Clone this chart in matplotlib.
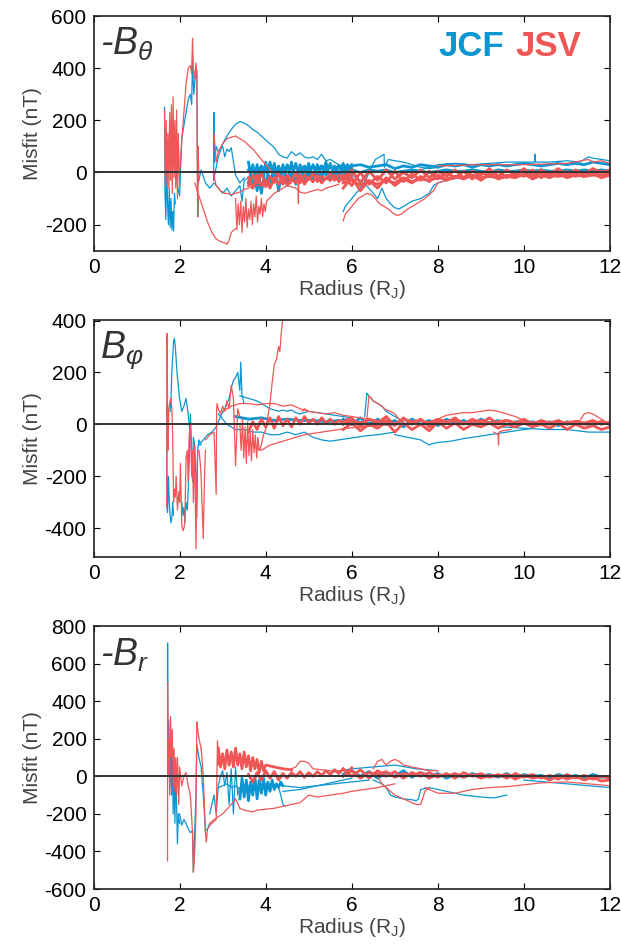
import matplotlib
matplotlib.use("Agg")
import matplotlib.pyplot as plt

plt.rcParams['font.family'] = ['Liberation Sans', 'DejaVu Sans']
plt.rcParams['mathtext.fontset'] = 'custom'
plt.rcParams['mathtext.rm'] = 'Liberation Sans'
plt.rcParams['mathtext.it'] = 'Liberation Sans:italic'
plt.rcParams['axes.unicode_minus'] = False

JCF_COLOR = '#0b96d2'
JSV_COLOR = '#ef5656'

# shared radius grids for the dense bands (R_J)
band_r = [5.8, 6.0, 6.2, 6.4, 6.6, 6.8, 7.0, 7.2, 7.4, 7.6, 7.8, 8.0, 8.2, 8.4, 8.6, 8.8,
          9.0, 9.2, 9.4, 9.6, 9.8, 10.0, 10.2, 10.4, 10.6, 10.8, 11.0, 11.2, 11.4, 11.6, 11.8, 12.0]
mid_r = [3.6, 3.7, 3.8, 3.9, 4.0, 4.1, 4.2, 4.3, 4.4, 4.5, 4.6, 4.7, 4.8, 4.9, 5.0, 5.1,
         5.2, 5.3, 5.4, 5.5, 5.6, 5.7, 5.8, 5.9, 6.0]

# ---------------- -B_theta ----------------
theta_jcf = [
    ([1.65, 1.66, 1.68, 1.70, 1.72, 1.74, 1.76, 1.78, 1.80, 1.82, 1.84, 1.86, 1.88, 1.90],
     [250, -80, -180, 40, -120, -200, -60, -210, -100, -220, -150, -225, -80, -120]),
    ([1.90, 1.95, 2.00, 2.05, 2.10, 2.15, 2.20, 2.25, 2.28, 2.30, 2.33, 2.36, 2.40, 2.42, 2.44],
     [60, -50, -90, 130, 180, 230, 280, 300, 260, 430, 300, 360, 390, -170, -100]),
    ([2.80, 2.90, 3.00, 3.10, 3.20, 3.30, 3.40, 3.50, 3.60, 3.70, 3.80, 3.90, 4.00, 4.10, 4.20,
      4.30, 4.40, 4.50, 4.60, 4.70, 4.80, 4.90, 5.00, 5.10, 5.20, 5.30, 5.40, 5.50, 5.60, 5.70,
      5.80, 5.90, 6.00],
     [-20, 60, 110, 140, 165, 185, 195, 190, 180, 165, 155, 140, 125, 110, 95, 70, 60, 55, 80,
      65, 75, 60, 55, 60, 50, 70, 45, 50, 40, 30, 25, 30, 20]),
    ([2.79, 2.80, 2.81, 2.85, 2.90, 2.95, 3.00, 3.05, 3.10, 3.15, 3.20, 3.30, 3.40, 3.50],
     [-30, 230, 40, 100, 80, 90, 100, 60, 90, 80, 95, -10, -40, -20]),
    ([2.42, 2.50, 2.60, 2.70, 2.80, 2.90, 3.00, 3.10, 3.20, 3.30, 3.40, 3.45, 3.50, 3.60],
     [-50, 10, -40, -60, -40, -60, -80, -60, -90, -70, -50, -110, -30, -20]),
    ([5.80, 5.85, 5.95, 6.05, 6.15, 6.25, 6.35, 6.45, 6.55, 6.65, 6.75, 6.76, 6.85, 7.00, 7.20,
      7.40, 7.60, 7.80, 8.00],
     [-150, -130, -110, -90, -70, -50, -20, 20, 50, 60, 70, 20, 50, 45, 40, 30, 20, 15, 20]),
    ([6.0, 6.2, 6.4, 6.5, 6.6, 6.7, 6.8, 6.9, 7.0, 7.1, 7.2, 7.4, 7.6, 7.8, 7.9, 8.0, 8.2,
      8.5, 9.0],
     [-10, -30, -60, -80, -100, -60, -100, -120, -135, -140, -130, -110, -100, -80, -50, -40,
      -30, -20, -10]),
    ([7.6, 8.0, 8.4, 8.8, 9.2, 9.6, 10.0, 10.25, 10.26, 10.27, 10.6, 11.0, 11.3, 11.5, 11.6,
      11.8, 12.0],
     [10, 30, 35, 30, 35, 40, 40, 40, 70, 40, 40, 45, 40, 60, 55, 50, 45]),
]
theta_jcf_band = [
    (mid_r,
     [40, -60, 30, -80, 40, -50, 35, -70, 30, -40, 40, -45, 30, -30, 35, -35, 30, -25, 40,
      -30, 25, -20, 35, -25, 30]),
    (mid_r,
     [-40, 30, -70, 20, -50, 40, -30, 25, -40, 30, -20, 35, -25, 20, -15, 30, -20, 25, -10,
      35, -15, 25, -10, 30, -5]),
    (mid_r,
     [10, 20, 0, 25, 5, 30, 10, 20, 0, 25, 15, 20, 5, 25, 10, 20, 15, 25, 10, 20, 15, 25, 10,
      20, 15]),
    (band_r,
     [20, 25, 30, 20, 25, 30, 15, 25, 20, 30, 25, 20, 30, 25, 30, 20, 30, 25, 30, 25, 30, 35,
      30, 25, 30, 35, 30, 35, 30, 40, 35, 30]),
    (band_r,
     [5, 10, 0, 10, 5, 10, 0, 5, 10, 5, 0, 5, 10, 5, 5, 10, 5, 0, 10, 5, 5, 10, 5, 10, 5, 5,
      10, 5, 10, 5, 10, 5]),
]

theta_jsv = [
    ([1.65, 1.67, 1.69, 1.71, 1.73, 1.75, 1.77, 1.79, 1.81, 1.83, 1.85, 1.87, 1.89, 1.91, 1.93,
      1.95, 1.97, 2.00],
     [240, -50, 200, -40, 150, -60, 230, -30, 260, -80, 290, -20, 200, -60, 240, -100, 150, -50]),
    ([2.00, 2.05, 2.10, 2.15, 2.20, 2.25, 2.28, 2.30, 2.32, 2.35, 2.38, 2.40, 2.42, 2.43, 2.45],
     [0, 120, 230, 340, 400, 410, 380, 515, 400, 360, 420, 380, -170, 100, -30]),
    ([2.35, 2.45, 2.55, 2.65, 2.75, 2.85, 2.95, 3.05, 3.10, 3.15, 3.20, 3.30],
     [-40, -90, -140, -190, -230, -255, -265, -270, -275, -260, -230, -215]),
    ([3.30, 3.33, 3.36, 3.39, 3.42, 3.45, 3.48, 3.51, 3.54, 3.57, 3.60, 3.63, 3.66, 3.69, 3.72,
      3.75, 3.78, 3.81, 3.84, 3.87, 3.90, 3.93, 3.96, 3.99, 4.02, 4.2, 4.4, 4.6],
     [-100, -220, -120, -200, -110, -230, -130, -190, -100, -210, -140, -180, -110, -200, -120,
      -170, -90, -190, -130, -160, -100, -170, -120, -150, -110, -80, -60, -40]),
    ([2.80, 2.85, 2.90, 3.00, 3.10, 3.20, 3.30, 3.40, 3.50, 3.60, 3.70, 3.80, 3.90, 4.00, 4.10,
      4.20, 4.30, 4.40, 4.60, 4.80, 5.00],
     [150, 40, 80, 110, 130, 135, 140, 130, 120, 105, 90, 70, 50, 30, 10, 0, -10, -20, -30,
      -35, -30]),
    ([2.80, 2.82, 2.85, 2.90, 2.95, 3.00, 3.05, 3.10, 3.20, 3.30, 3.40, 3.50, 3.60, 3.80, 4.00,
      4.20, 4.50, 4.75, 4.76, 4.77, 5.00],
     [0, -30, -50, -60, -70, -75, -80, -80, -85, -80, -75, -65, -60, -50, -45, -40, -35, -30,
      -120, -30, -25]),
    ([4.5, 4.7, 4.8, 4.9, 5.0, 5.1, 5.2, 5.3, 5.4, 5.5, 5.6, 5.7],
     [-50, -60, -75, -80, -75, -70, -65, -70, -60, -55, -50, -45]),
    ([5.80, 5.85, 5.95, 6.05, 6.15, 6.25, 6.35, 6.45, 6.55, 6.65, 6.75, 6.85, 6.95, 7.05, 7.15,
      7.30, 7.50, 7.70, 7.90, 8.00, 8.20, 8.50],
     [-185, -160, -140, -120, -100, -90, -80, -85, -100, -120, -130, -140, -155, -165, -160,
      -140, -120, -100, -70, -40, -30, -20]),
    ([8.0, 9.0, 10.0, 11.0, 11.5, 11.6, 11.8, 12.0],
     [25, 30, 30, 35, 50, 40, 45, 35]),
]
theta_jsv_band = [
    (mid_r,
     [-20, -60, -10, -50, -30, -60, -20, -45, -15, -50, -25, -40, -10, -45, -20, -35, -10,
      -40, -20, -30, -10, -35, -15, -30, -10]),
    (mid_r,
     [-50, -10, -40, 0, -55, -15, -35, -5, -45, -10, -30, 0, -40, -10, -25, -5, -35, -15,
      -25, -5, -30, -10, -20, -5, -25]),
    (band_r,
     [-60, -20, -70, -30, -60, -20, -50, -25, -40, -15, -35, -10, -30, -15, -25, -10, -30,
      -5, -25, -15, -20, -5, -25, -10, -20, -5, -20, -10, -15, -5, -20, -10]),
    (band_r,
     [-10, -50, 0, -45, -15, -40, 5, -35, -5, -30, 5, -25, 0, -20, 5, -25, 0, -15, 5, -20, 0,
      -15, 10, -20, 0, -10, 5, -15, 0, -10, 5, -5]),
    (band_r,
     [-30, 10, -40, 5, -30, 10, -25, 0, -20, 10, -20, 5, -15, 10, -20, 5, -10, 15, -15, 10,
      -10, 15, -10, 10, -5, 15, -10, 10, -5, 15, 0, 10]),
    (band_r,
     [-40, -30, -50, -35, -45, -30, -40, -20, -35, -25, -30, -20, -25, -15, -20, -10, -20,
      -15, -20, -10, -15, -10, -15, -5, -10, -15, -10, -5, -15, -10, -10, -5]),
]

# ---------------- B_phi ----------------
phi_jcf = [
    ([1.70, 1.71, 1.72, 1.74, 1.76, 1.78, 1.80, 1.82, 1.84, 1.86],
     [80, -330, -340, -200, -300, -350, -380, -360, -300, -350]),
    ([1.78, 1.80, 1.82, 1.84, 1.86, 1.88, 1.90, 1.92, 1.95, 2.00, 2.05, 2.10, 2.15, 2.20, 2.25],
     [50, 100, 200, 260, 320, 330, 300, 250, 180, 100, 50, 70, 100, 40, -50]),
    ([2.05, 2.08, 2.10, 2.12, 2.15, 2.18, 2.20, 2.22, 2.25, 2.28, 2.30, 2.32, 2.35, 2.38, 2.40,
      2.42, 2.45, 2.50],
     [-300, -350, -320, -380, -300, -330, -250, -150, 40, -100, -220, -50, -80, -200, -360,
      -100, -60, -80]),
    ([2.45, 2.55, 2.65, 2.75, 2.85, 2.95, 3.05, 3.15, 3.20, 3.25, 3.30, 3.35, 3.40, 3.42, 3.45,
      3.50],
     [-80, -60, -40, -30, -10, 30, 60, 100, 140, 170, 180, 200, 130, 240, 110, 80]),
    ([3.4, 3.5, 3.6, 3.7, 3.8, 3.9, 4.0, 4.1, 4.2, 4.3, 4.4, 4.5, 4.6, 4.7, 4.8, 4.9, 5.0,
      5.2, 5.4, 5.6, 5.8, 6.0],
     [110, 105, 100, 95, 90, 80, 70, 60, 55, 50, 55, 50, 55, 45, 40, 45, 50, 45, 40, 35, 30, 25]),
    ([2.9, 3.1, 3.3, 3.5, 3.7, 3.9, 4.1, 4.3, 4.5, 4.7, 4.9, 5.1, 5.3, 5.5, 5.7, 5.9, 6.1,
      6.3, 6.6, 7.0],
     [40, 0, -20, -20, -30, -30, -40, -40, -30, -40, -30, -50, -60, -65, -60, -55, -50, -45,
      -40, -30]),
    ([6.30, 6.35, 6.40, 6.45, 6.50, 6.60, 6.70, 6.80, 6.90, 7.00, 7.20],
     [30, 120, 110, 100, 90, 80, 70, 50, 40, 30, 10]),
    ([7.0, 7.3, 7.6, 7.8, 7.85, 8.0, 8.3, 8.6, 9.0, 9.4, 9.8, 10.2],
     [-40, -50, -60, -80, -75, -70, -65, -55, -45, -35, -25, -15]),
    ([9.5, 10.0, 10.5, 11.0, 11.5, 12.0],
     [-10, -15, -20, -20, -30, -30]),
]
phi_jcf_band = [
    ([3.3, 3.6, 3.9, 4.2, 4.5, 4.8, 5.1, 5.4, 5.7, 6.0, 6.5, 7.0],
     [30, 20, 25, 15, 20, 15, 15, 10, 15, 10, 5, 0]),
    (band_r,
     [20, 0, 25, -5, 20, 0, 15, -10, 20, 0, 15, -5, 20, 5, 15, 0, 20, 5, 15, 0, 10, 5, 10,
      0, 10, -5, 10, 0, 5, -5, 10, 0]),
]

phi_jsv = [
    ([1.70, 1.71, 1.72, 1.73, 1.75, 1.78, 1.80, 1.82, 1.84, 1.86, 1.88, 1.90, 1.92, 1.95, 1.98,
      2.00, 2.02, 2.05, 2.08, 2.10, 2.12, 2.15],
     [-320, 350, 50, -100, 60, 90, 100, 60, -50, -300, -250, -280, -200, -330, -260, -300,
      -150, -390, -410, -400, -380, -130]),
    ([2.15, 2.18, 2.20, 2.22, 2.25, 2.28, 2.30, 2.32, 2.35, 2.38, 2.40, 2.42, 2.45, 2.48, 2.50,
      2.52, 2.55, 2.58, 2.60],
     [-130, -100, -220, -50, 0, -200, -100, -300, -80, -480, -200, -100, -100, -150, -200,
      -300, -440, -200, -100]),
    ([2.60, 2.70, 2.80, 2.85, 2.86, 2.87, 2.90, 2.95, 3.00, 3.05, 3.10, 3.15, 3.20, 3.25, 3.30,
      3.35, 3.40],
     [-60, -40, -30, -270, 50, 80, 60, 40, 70, 50, 90, 60, 150, 100, -160, 60, 30]),
    ([3.40, 3.43, 3.46, 3.49, 3.52, 3.55, 3.58, 3.61, 3.64, 3.67, 3.70, 3.73, 3.76, 3.79, 3.82,
      3.85],
     [0, -100, 20, -130, -10, -150, 10, -120, -30, -140, -20, -110, -40, -130, -50, -100]),
    ([3.85, 3.90, 3.95, 4.00, 4.05, 4.10, 4.15, 4.20, 4.25, 4.30, 4.33, 4.36, 4.38, 4.40],
     [-100, -80, -40, -20, 30, 80, 160, 230, 250, 300, 280, 350, 380, 410]),
    ([3.5, 3.7, 3.9, 4.1, 4.3, 4.5, 4.7, 4.9, 5.1, 5.3, 5.5, 5.7, 5.9, 6.2, 6.5, 7.0],
     [-60, -80, -100, -80, -70, -60, -50, -40, -35, -30, -25, -20, -15, -10, -5, 0]),
    ([3.0, 3.2, 3.4, 3.6, 3.8, 4.0, 4.2, 4.4, 4.6, 4.8, 5.0],
     [50, 70, 80, 80, 75, 80, 80, 70, 75, 60, 50]),
    ([4.85, 4.90, 5.00, 5.20, 5.40, 5.60, 5.80, 6.00, 6.20, 6.40, 6.60, 6.80, 7.00],
     [50, 60, 50, 45, 40, 45, 35, 30, 25, 20, 15, 10, 5]),
    ([6.35, 6.40, 6.45, 6.50, 6.60, 6.70, 6.80, 6.90, 7.00, 7.10, 7.20],
     [20, 110, 100, 90, 80, 70, 55, 50, 40, 20, 0]),
    ([7.8, 8.0, 8.2, 8.4, 8.6, 8.8, 9.0, 9.2, 9.4, 9.6, 9.8, 10.0, 10.3],
     [10, 20, 35, 40, 45, 45, 50, 55, 50, 40, 30, 15, 5]),
    ([9.30, 9.40, 9.41, 9.42, 9.50, 9.70],
     [-30, -40, -80, -30, -25, -20]),
    ([11.0, 11.3, 11.4, 11.5, 11.6, 11.7, 11.8, 11.9, 12.0],
     [10, 15, 40, 45, 40, 30, 20, 10, 10]),
]
phi_jsv_band = [
    (mid_r,
     [-30, 10, -20, 20, -10, 25, -15, 30, -5, 20, -10, 25, 0, 30, 5, 20, 0, 25, 5, 20, 0, 15,
      5, 20, 0]),
    (band_r,
     [0, 25, -10, 20, 5, 30, -5, 25, 0, 20, -10, 15, 5, 25, 0, 20, 5, 25, 0, 15, 5, 20, 0, 15,
      5, 15, 0, 10, 5, 15, 0, 10]),
    (band_r,
     [-20, 5, -25, 0, -15, 10, -30, 5, -20, 0, -25, 10, -15, 5, -20, 0, -10, 5, -15, 0, -10,
      5, -10, 0, -15, 5, -20, 0, -15, -5, -20, -10]),
    (band_r,
     [10, 15, 5, 20, 10, 15, 0, 20, 10, 15, 5, 20, 10, 15, 5, 10, 15, 5, 10, 15, 5, 10, 5,
      10, 0, 10, 5, 10, 0, 5, 10, 0]),
]

# ---------------- -B_r ----------------
rad_jcf = [
    ([1.720, 1.721, 1.730],
     [500, 710, 100]),
    ([1.73, 1.75, 1.77, 1.79, 1.81, 1.83, 1.85, 1.87, 1.89, 1.91, 1.93, 1.95, 1.97, 2.00],
     [100, 300, -50, 150, -100, 200, -200, 50, -250, 0, -150, -360, -200, -250]),
    ([2.00, 2.05, 2.10, 2.15, 2.20, 2.25, 2.30, 2.32, 2.35, 2.38, 2.40, 2.45, 2.50, 2.55, 2.60,
      2.65, 2.70],
     [-200, -260, -230, -250, -280, -300, -290, -510, -300, -100, 170, 100, 50, -100, -290,
      -280, -250]),
    ([2.70, 2.75, 2.80, 2.85, 2.90, 2.95, 3.00, 3.05, 3.10, 3.15, 3.20, 3.25, 3.30, 3.35, 3.40],
     [-200, -150, -100, -200, -50, 0, 30, -50, 20, -150, 40, -200, 50, -100, -60]),
    ([2.9, 3.0, 3.1, 3.2, 3.3, 3.4, 3.5, 3.6, 3.7, 3.8, 3.9, 4.0, 4.1, 4.2, 4.3, 4.35, 4.4, 4.45],
     [-60, -50, -40, -60, -50, -70, -60, -50, -60, -55, -50, -55, -50, -45, -60, -100, -150, -160]),
    ([4.0, 4.4, 4.8, 5.2, 5.6, 6.0, 6.4],
     [-40, -50, -60, -50, -40, -30, -20]),
    ([4.4, 4.8, 5.0, 5.2, 5.6, 6.0],
     [-80, -70, -60, -50, -30, -10]),
    ([6.5, 6.7, 6.8, 6.9, 7.0, 7.2, 7.4, 7.5, 7.55, 7.6, 7.8, 8.0, 8.3, 8.6, 9.0, 9.3, 9.6],
     [-20, -40, -60, -100, -110, -120, -125, -130, -120, -70, -60, -70, -85, -100, -110, -115,
      -100]),
    ([5.5, 6.0, 6.5, 7.0, 7.5, 8.0],
     [20, 40, 50, 60, 40, 30]),
    ([10.0, 10.5, 11.0, 11.5, 12.0],
     [-20, -30, -40, -50, -60]),
]
rad_jcf_band = [
    ([3.40, 3.45, 3.50, 3.55, 3.60, 3.65, 3.70, 3.75, 3.80, 3.85, 3.90, 3.95, 4.00, 4.05, 4.10,
      4.15, 4.20, 4.25, 4.30, 4.35, 4.40],
     [-120, -10, -110, -20, -130, -30, -100, 0, -120, -20, -90, -10, -100, -30, -80, -20,
      -70, -40, -60, -30, -50]),
    (band_r,
     [10, 30, 0, 25, -10, 20, 0, 30, -5, 20, 0, 15, -10, 10, -5, 15, 0, 10, -5, 15, -10, 10,
      0, 5, -10, 10, -5, 5, -10, 10, -5, 0]),
]

rad_jsv = [
    ([1.720, 1.721, 1.730],
     [-450, 500, 0]),
    ([1.73, 1.75, 1.77, 1.79, 1.81, 1.83, 1.85, 1.87, 1.89, 1.91, 1.93, 1.95, 1.98, 2.00, 2.05,
      2.10, 2.15, 2.20, 2.25, 2.30, 2.32, 2.34, 2.36, 2.38, 2.40, 2.42, 2.45, 2.50],
     [0, 200, -100, 320, 100, 250, -50, 150, -80, 100, -100, 100, -150, 50, -50, 0, 20, -50,
      -100, -300, -510, -450, -350, -200, 290, 250, 200, 150]),
    ([2.50, 2.55, 2.60, 2.62, 2.65, 2.70, 2.75, 2.80, 2.85, 2.88, 2.90, 2.95, 3.00],
     [150, 0, -300, -350, -280, -260, -250, -240, -230, 190, 60, 100, 80]),
    ([3.4, 3.5, 3.6, 3.7, 3.8, 4.0, 4.2, 4.4, 4.6, 4.8, 4.9, 5.0, 5.2, 5.5, 5.8, 6.0, 6.3,
      6.6, 6.8, 7.0],
     [-170, -180, -185, -190, -180, -175, -170, -160, -150, -140, -120, -100, -110, -100, -90,
      -80, -70, -60, -50, -40]),
    ([2.7, 2.8, 3.0, 3.2, 3.3, 3.4],
     [-250, -230, -200, -150, -120, -170]),
    ([4.6, 4.7, 4.8, 4.9, 5.0, 5.1, 5.5, 6.0],
     [40, 50, 80, 80, 70, 40, 30, 30]),
    ([6.6, 6.7, 6.8, 6.9, 7.0, 7.1, 7.2, 7.3, 7.4, 7.5, 7.6, 7.7, 7.8],
     [0, -40, -60, -80, -100, -110, -120, -130, -140, -150, -150, -80, -60]),
    ([6.5, 6.6, 6.7, 6.8, 6.9, 7.0, 7.1, 7.2, 7.4, 7.6, 7.8, 8.0],
     [40, 80, 90, 60, 80, 90, 80, 60, 50, 40, 30, 30]),
    ([7.7, 8.0, 8.4, 8.8, 9.2, 9.6, 10.0, 10.4, 11.0, 11.5, 12.0],
     [-60, -90, -90, -70, -60, -55, -45, -35, -30, -40, -50]),
]
rad_jsv_band = [
    ([2.90, 2.95, 3.00, 3.05, 3.10, 3.15, 3.20, 3.25, 3.30, 3.35, 3.40, 3.45, 3.50, 3.55, 3.60,
      3.65, 3.70, 3.75, 3.80, 3.85, 3.90, 3.95, 4.00, 4.20, 4.40, 4.60],
     [150, 50, 120, 40, 140, 60, 130, 50, 150, 60, 120, 40, 130, 50, 110, 30, 100, 40, 90, 20,
      80, 30, 60, 50, 40, 35]),
    (mid_r,
     [10, -30, 20, -20, 30, -10, 25, -20, 15, -10, 20, 0, 25, -5, 20, 0, 25, 5, 30, 10, 35,
      15, 40, 20, 45]),
    (band_r,
     [40, 0, 35, -10, 30, 0, 25, -10, 20, 0, 20, -5, 15, -10, 20, 0, 15, -5, 10, -10, 15,
      -5, 10, -10, 5, -15, 10, -10, 5, -15, 0, -10]),
    (band_r,
     [0, 30, -10, 20, 10, 25, -5, 15, 5, 20, -10, 10, 0, 15, -5, 10, -10, 5, 0, 10, -15, 5,
      -10, 0, -20, 5, -15, 0, -20, -5, -25, -20]),
]

panels = [
    (theta_jcf, theta_jcf_band, theta_jsv, theta_jsv_band, (-300, 600),
     [-200, 0, 200, 400, 600], r'-$B_\theta$'),
    (phi_jcf, phi_jcf_band, phi_jsv, phi_jsv_band, (-510, 402),
     [-400, -200, 0, 200, 400], r'$B_\varphi$'),
    (rad_jcf, rad_jcf_band, rad_jsv, rad_jsv_band, (-600, 800),
     [-600, -400, -200, 0, 200, 400, 600, 800], r'-$B_r$'),
]

fig = plt.figure(figsize=(6.21, 9.49), dpi=100)
boxes = [(0.1506, 0.7358, 0.8317, 0.2473),
         (0.1506, 0.4134, 0.8317, 0.2494),
         (0.1506, 0.0632, 0.8317, 0.2771)]

for (jcf, jcf_band, jsv, jsv_band, ylim, yticks, label), box in zip(panels, boxes):
    ax = fig.add_axes(box)
    for r, v in jcf:
        ax.plot(r, v, color=JCF_COLOR, lw=0.9)
    for r, v in jcf_band:
        ax.plot(r, v, color=JCF_COLOR, lw=2.0)
    for r, v in jsv:
        ax.plot(r, v, color=JSV_COLOR, lw=0.9)
    for r, v in jsv_band:
        ax.plot(r, v, color=JSV_COLOR, lw=2.0)
    ax.axhline(0, color='#333333', lw=1.4, zorder=5)
    ax.set_xlim(0, 12)
    ax.set_ylim(*ylim)
    ax.set_xticks([0, 2, 4, 6, 8, 10, 12])
    ax.set_yticks(yticks)
    ax.tick_params(direction='in', top=True, right=True, length=4, width=0.8,
                   labelsize=15, pad=5)
    for s in ax.spines.values():
        s.set_linewidth(1.2)
        s.set_color('#222222')
    ax.set_ylabel('Misfit (nT)', fontsize=15, color='#444444', labelpad=2)
    ax.set_xlabel(r'Radius (R$_\mathrm{J}$)', fontsize=15, color='#444444', labelpad=1)
    ax.text(0.012, 0.96, label, transform=ax.transAxes, fontsize=27, color='#333333',
            ha='left', va='top', style='italic')

top_ax = fig.axes[0]
top_ax.text(0.795, 0.87, 'JCF', transform=top_ax.transAxes, fontsize=25,
            fontweight='bold', color=JCF_COLOR, ha='right', va='center')
top_ax.text(0.817, 0.87, 'JSV', transform=top_ax.transAxes, fontsize=25,
            fontweight='bold', color=JSV_COLOR, ha='left', va='center')

fig.savefig('out.png', dpi=100)
